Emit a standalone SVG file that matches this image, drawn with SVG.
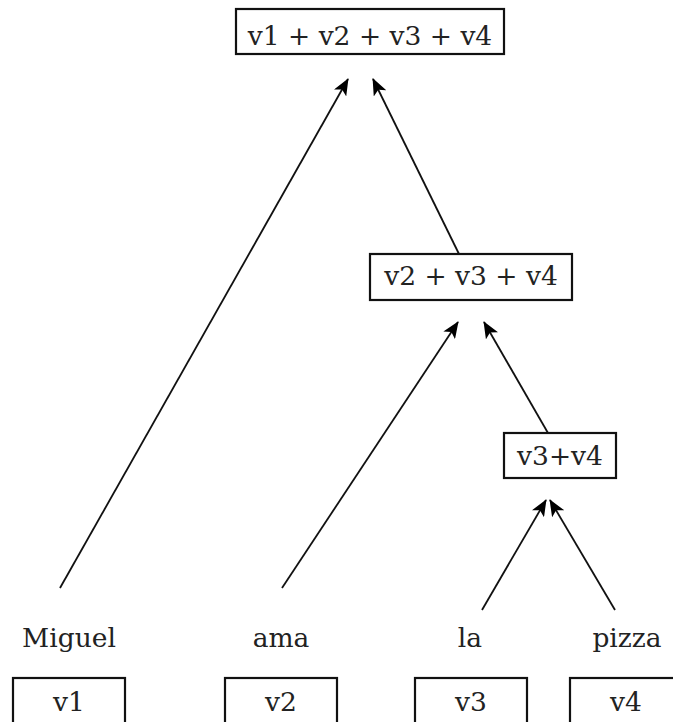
<svg xmlns="http://www.w3.org/2000/svg" width="673" height="722" viewBox="0 0 673 722">
<style>
text{font-family:"DejaVu Serif","Liberation Serif",serif;font-size:26.5px;fill:#222;text-anchor:middle}
.box{fill:#fff;stroke:#111;stroke-width:2.2}
.edge{stroke:#111;stroke-width:1.8;fill:none;marker-end:url(#ah)}
</style>
<defs>
<marker id="ah" markerUnits="userSpaceOnUse" viewBox="0 0 17 14" refX="16" refY="7" markerWidth="17" markerHeight="14" orient="auto">
<path d="M0,0 L17,7 L0,14 L4,7 z" fill="#000"/>
</marker>
</defs>
<rect width="673" height="722" fill="#fff"/>
<g id="edges">
<line class="edge" x1="60" y1="588" x2="348" y2="79"/>
<line class="edge" x1="459" y1="254" x2="373" y2="79"/>
<line class="edge" x1="282" y1="588" x2="458" y2="322"/>
<line class="edge" x1="548" y1="433" x2="484" y2="322"/>
<line class="edge" x1="482" y1="610" x2="546" y2="500"/>
<line class="edge" x1="615" y1="610" x2="550" y2="500"/>
</g>
<g id="n_sum4"><rect class="box" x="236" y="9" width="268" height="45"/><text x="370" y="45">v1 + v2 + v3 + v4</text></g>
<g id="n_sum3"><rect class="box" x="370" y="254" width="202" height="46"/><text x="471" y="285">v2 + v3 + v4</text></g>
<g id="n_sum2"><rect class="box" x="504" y="433" width="112" height="45"/><text x="560" y="465">v3+v4</text></g>
<g id="w_miguel"><text x="69" y="647">Miguel</text></g>
<g id="w_ama"><text x="281" y="647">ama</text></g>
<g id="w_la"><text x="470" y="647">la</text></g>
<g id="w_pizza"><text x="627" y="647">pizza</text></g>
<g id="n_v1"><rect class="box" x="13" y="678" width="112" height="46"/><text x="69" y="711">v1</text></g>
<g id="n_v2"><rect class="box" x="225" y="678" width="112" height="46"/><text x="281" y="711">v2</text></g>
<g id="n_v3"><rect class="box" x="415" y="678" width="112" height="46"/><text x="471" y="711">v3</text></g>
<g id="n_v4"><rect class="box" x="570" y="678" width="112" height="46"/><text x="626" y="711">v4</text></g>
</svg>
